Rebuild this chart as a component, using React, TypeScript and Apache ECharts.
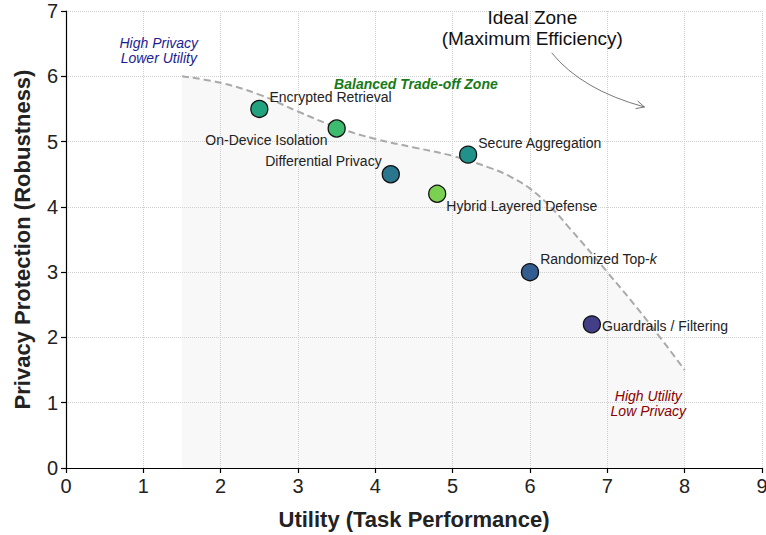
import React, { useEffect, useRef } from "react";
import * as echarts from "echarts";

const methodNames = [
  "Encrypted Retrieval",
  "On-Device Isolation",
  "Differential Privacy",
  "Secure Aggregation",
  "Hybrid Layered Defense",
  "Randomized Top-k",
  "Guardrails / Filtering",
];
const utilityValues = [2.5, 3.5, 4.2, 5.2, 4.8, 6.0, 6.8];
const privacyValues = [5.5, 5.2, 4.5, 4.8, 4.2, 3.0, 2.2];
const pointColors = ["#22a27f", "#3dbb6e", "#2a768e", "#21918c", "#7ad151", "#335d91", "#423f88"];

const frontierX = [1.5, 2, 2.5, 3, 3.5, 4, 4.5, 5, 5.5, 5.75, 6, 6.25, 6.5, 7, 7.5, 8];
const frontierY = [6.0, 5.9, 5.72, 5.46, 5.22, 5.04, 4.91, 4.78, 4.59, 4.46, 4.28, 4.02, 3.69, 3.0, 2.28, 1.5];

const xAxisMin = 0;
const xAxisMax = 9;
const yAxisMin = 0;
const yAxisMax = 7;

const FONT = "'Liberation Sans', Arial, Helvetica, sans-serif";

// label placement per point: [position, distance, dx, dy]
const labelPlacement: Array<[string, number, number, number]> = [
  ["right", 1, 0, -12],
  ["left", 0, 0, 11],
  ["left", 0, 0, -13],
  ["right", 1, 0, -12],
  ["right", 0, 0, 12],
  ["right", 1, 0, -13],
  ["right", 1, 0, 2],
];

export default function App() {
  const ref = useRef<HTMLDivElement>(null);
  useEffect(() => {
    if (!ref.current) return;
    const chart = echarts.init(ref.current, null, { renderer: "svg" });
    const scatterData = methodNames.map((name, i) => {
      const [pos, dist, dx, dy] = labelPlacement[i];
      const isTopK = name.endsWith("Top-k");
      return {
        name,
        value: [utilityValues[i], privacyValues[i]],
        itemStyle: { color: pointColors[i] },
        label: {
          show: true,
          position: pos,
          distance: dist,
          offset: [dx, dy],
          formatter: isTopK ? "{a|Randomized Top-}{b|k}" : name,
          rich: isTopK
            ? {
                a: { fontSize: 14, fontFamily: FONT, color: "#222" },
                b: { fontSize: 14, fontFamily: FONT, color: "#222", fontStyle: "italic" },
              }
            : undefined,
        },
      };
    });
    chart.setOption({
      animation: false,
      backgroundColor: "#ffffff",
      grid: { left: 66, right: 4, top: 11, bottom: 67, outerBoundsMode: "none", containLabel: false },
      xAxis: {
        type: "value",
        min: xAxisMin,
        max: xAxisMax,
        interval: 1,
        name: "Utility (Task Performance)",
        nameLocation: "middle",
        nameGap: 40,
        nameTextStyle: { fontSize: 22, fontWeight: "bold", fontFamily: FONT, color: "#222" },
        axisLine: { show: true, lineStyle: { color: "#000", width: 1.2 } },
        axisTick: { show: true, length: 5, lineStyle: { color: "#000", width: 1.2 } },
        axisLabel: { fontSize: 20, fontFamily: FONT, color: "#222", margin: 8 },
        splitLine: { show: true, lineStyle: { type: "dotted", color: "#d0d0d0", width: 1 } },
      },
      yAxis: {
        type: "value",
        min: yAxisMin,
        max: yAxisMax,
        interval: 1,
        name: "Privacy Protection (Robustness)",
        nameLocation: "middle",
        nameGap: 33,
        nameTextStyle: { fontSize: 22, fontWeight: "bold", fontFamily: FONT, color: "#222" },
        axisLine: { show: true, lineStyle: { color: "#000", width: 1.2 } },
        axisTick: { show: true, length: 5, lineStyle: { color: "#000", width: 1.2 } },
        axisLabel: { fontSize: 20, fontFamily: FONT, color: "#222", margin: 8 },
        splitLine: { show: true, lineStyle: { type: "dotted", color: "#d0d0d0", width: 1 } },
      },
      series: [
        {
          type: "line",
          data: frontierX.map((x, i) => [x, frontierY[i]]),
          smooth: 0.4,
          symbol: "none",
          z: 2,
          lineStyle: { color: "#aaaaaa", width: 2, type: [7, 4] },
          areaStyle: { color: "rgba(190,190,190,0.16)", origin: "start" },
          silent: true,
        },
        {
          type: "scatter",
          data: scatterData,
          symbolSize: 17,
          z: 5,
          itemStyle: { borderColor: "#111", borderWidth: 1.3, opacity: 1 },
          label: { fontSize: 14, fontFamily: FONT, color: "#222" },
        },
      ],
    });

    const px = (x: number, y: number) => chart.convertToPixel({ gridIndex: 0 }, [x, y]) as number[];
    const ideal = px(6.03, 6.74);
    const hp = px(1.2, 6.4);
    const bal = px(4.525, 5.88);
    const hu = px(7.53, 0.99);
    const aStart = px(6.28, 6.36);
    const aCtrl = px(6.67, 5.79);
    const aEnd = px(7.48, 5.53);
    const ang = Math.atan2(aEnd[1] - aCtrl[1], aEnd[0] - aCtrl[0]);
    const hl = 9;
    const spread = 0.45;
    const h1 = [aEnd[0] - hl * Math.cos(ang - spread), aEnd[1] - hl * Math.sin(ang - spread)];
    const h2 = [aEnd[0] - hl * Math.cos(ang + spread), aEnd[1] - hl * Math.sin(ang + spread)];

    const textEl = (
      p: number[],
      text: string,
      size: number,
      color: string,
      weight: string,
      style: string,
      lh: number
    ) => ({
      type: "text",
      x: p[0],
      y: p[1],
      z: 10,
      style: {
        text,
        fill: color,
        fontSize: size,
        fontFamily: FONT,
        fontWeight: weight,
        fontStyle: style,
        align: "center",
        verticalAlign: "middle",
        textAlign: "center",
        textVerticalAlign: "middle",
        lineHeight: lh,
      },
    });

    chart.setOption({
      graphic: [
        textEl(ideal, "Ideal Zone\n(Maximum Efficiency)", 19, "#111", "normal", "normal", 21),
        textEl(hp, "High Privacy\nLower Utility", 14, "#1c1c8f", "normal", "italic", 15),
        textEl(bal, "Balanced Trade-off Zone", 14, "#177a17", "bold", "italic", 16),
        textEl(hu, "High Utility\nLow Privacy", 14, "#8b0000", "normal", "italic", 15),
        {
          type: "bezierCurve",
          z: 10,
          shape: { x1: aStart[0], y1: aStart[1], x2: aEnd[0], y2: aEnd[1], cpx1: aCtrl[0], cpy1: aCtrl[1] },
          style: { stroke: "#555", lineWidth: 0.8, fill: null },
        },
        {
          type: "polyline",
          z: 10,
          shape: { points: [h1, aEnd, h2] },
          style: { stroke: "#555", lineWidth: 0.8, fill: null },
        },
      ],
    });
    return () => chart.dispose();
  }, []);
  return (
    <div
      ref={ref}
      style={{ position: "fixed", left: 0, top: 0, width: 766, height: 535, background: "#fff" }}
    />
  );
}
